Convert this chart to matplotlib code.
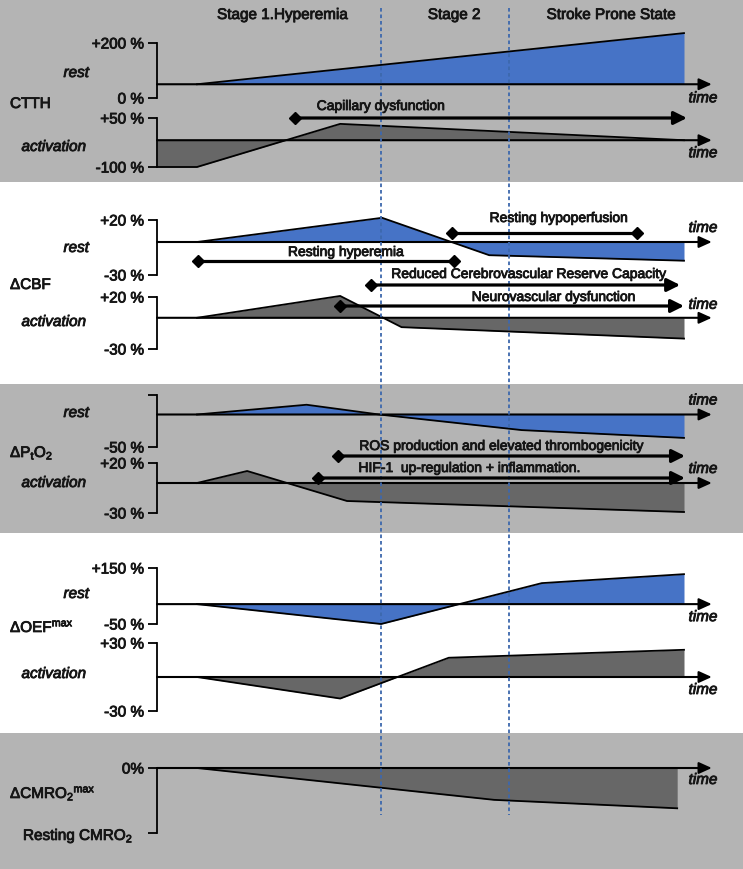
import matplotlib.pyplot as plt
import matplotlib.patheffects as pe

plt.rcParams['font.family'] = ['Liberation Sans', 'DejaVu Sans']
plt.rcParams['mathtext.fontset'] = 'custom'
plt.rcParams['mathtext.rm'] = 'Liberation Sans'
plt.rcParams['mathtext.it'] = 'Liberation Sans:italic'
plt.rcParams['mathtext.bf'] = 'Liberation Sans:bold'

# time in arbitrary units: 0 = onset, 10 = end of the schematic
stage_bounds = [3.78, 6.40]
stage_names = ['Stage 1.Hyperemia', 'Stage 2', 'Stroke Prone State']
t_axis = -0.82     # where the y brackets stand
t_arrow = 10.57    # tip of the time arrows

# CTTH
ctth_rest_t = [0, 10]
ctth_rest_v = [50, 236]
ctth_act_t = [t_axis, 0, 2.94, 10]
ctth_act_v = [-100, -100, 32, -18]
# delta CBF
cbf_rest_t = [0, 3.8, 6.0, 10]
cbf_rest_v = [0, 22, -12, -17]
cbf_act_t = [0, 2.94, 4.2, 10]
cbf_act_v = [0, 21, -9, -20]
# delta PtO2
pto2_rest_t = [0, 2.25, 3.74, 6.67, 10]
pto2_rest_v = [0, 15, 0, -24, -36]
pto2_act_t = [0, 1.03, 3.08, 10]
pto2_act_v = [0, 12, -18, -29]
# delta OEFmax
oef_rest_t = [0, 3.78, 7.08, 10]
oef_rest_v = [21, -50, 96, 128]
oef_act_t = [0, 2.94, 5.17, 10]
oef_act_v = [0, -19, 17, 24]
# delta CMRO2max
cmro2_t = [0, 6.1, 9.86]
cmro2_v = [0, -49, -62]

# annotations: text, start, end, end style
spans = [
    ('Capillary dysfunction', 2.01, 10.06, 'arrow'),
    ('Resting hypoperfusion', 5.24, 9.03, 'diamond'),
    ('Resting hyperemia', 0.02, 5.28, 'diamond'),
    ('Reduced Cerebrovascular Reserve Capacity', 3.57, 9.92, 'arrow'),
    ('Neurovascular dysfunction', 2.94, 10.0, 'arrow'),
    ('ROS production and elevated thrombogenicity', 2.9, 10.02, 'arrow'),
    ('HIF-1  up-regulation + inflammation.', 2.48, 10.02, 'arrow'),
]

BLUE = '#4673c6'
DARK = '#676767'
BAND = '#b4b4b4'
INK = '#151515'
thick = [pe.withStroke(linewidth=0.6, foreground=INK)]

W, H = 743, 869
fig = plt.figure(figsize=(W / 100, H / 100), dpi=100)
xlim = (-197 / 48.7, (W - 197) / 48.7)

# background bands
bg = fig.add_axes([0, 0, 1, 1])
bg.set_xlim(0, 1)
bg.set_ylim(H, 0)
bg.axis('off')
edges = [0, 182, 384, 533, 733, H]
for i in range(len(edges) - 1):
    bg.axhspan(edges[i], edges[i + 1], color=BAND if i % 2 == 0 else 'white', lw=0)
bg.set_zorder(-1)

panels = [
    dict(t=ctth_rest_t, v=ctth_rest_v, base=50, lim=(0, 200), lab=['0 %', '+200 %'], c=BLUE, rows=(43, 98), dy=-14),
    dict(t=ctth_act_t, v=ctth_act_v, base=-18, lim=(-100, 50), lab=['-100 %', '+50 %'], c=DARK, rows=(118, 167), dy=-13),
    dict(t=cbf_rest_t, v=cbf_rest_v, base=0, lim=(-30, 20), lab=['-30 %', '+20 %'], c=BLUE, rows=(220, 275), dy=14),
    dict(t=cbf_act_t, v=cbf_act_v, base=0, lim=(-30, 20), lab=['-30 %', '+20 %'], c=DARK, rows=(297, 349), dy=13),
    dict(t=pto2_rest_t, v=pto2_rest_v, base=0, lim=(-50, 30), lab=['-50 %', ''], c=BLUE, rows=(395, 447), dy=14),
    dict(t=pto2_act_t, v=pto2_act_v, base=0, lim=(-30, 20), lab=['-30 %', '+20 %'], c=DARK, rows=(463, 513), dy=14),
    dict(t=oef_rest_t, v=oef_rest_v, base=21, lim=(-50, 150), lab=['-50 %', '+150 %'], c=BLUE, rows=(568, 624), dy=-13),
    dict(t=oef_act_t, v=oef_act_v, base=0, lim=(-30, 30), lab=['-30 %', '+30 %'], c=DARK, rows=(643, 711), dy=-13),
    dict(t=cmro2_t, v=cmro2_v, base=0, lim=(-100, 0), lab=['', '0%'], c=DARK, rows=(768, 833), dy=-12),
]

for p in panels:
    top, bot = p['rows']
    ax = fig.add_axes([0, 1 - bot / H, 1, (bot - top) / H])
    ax.set_facecolor('none')
    ax.set_xlim(*xlim)
    ax.set_ylim(*p['lim'])
    ax.fill_between(p['t'], p['v'], p['base'], color=p['c'], lw=0, clip_on=False)
    ax.plot(p['t'], p['v'], color='black', lw=1.3, clip_on=False)
    ax.annotate('', xy=(t_arrow, p['base']), xytext=(t_axis, p['base']),
                arrowprops=dict(arrowstyle='-|>,head_length=0.55,head_width=0.25',
                                mutation_scale=14, lw=1.5, color='black',
                                shrinkA=0, shrinkB=0))
    ax.annotate('time', xy=(10.39, p['base']), xytext=(0, p['dy']),
                textcoords='offset pixels', ha='center', va='center', color=INK,
                style='italic', fontsize=11, annotation_clip=False, path_effects=thick)
    for s in ['top', 'right', 'bottom']:
        ax.spines[s].set_visible(False)
    ax.spines['left'].set_position(('data', t_axis))
    ax.spines['left'].set_bounds(*p['lim'])
    ax.spines['left'].set_linewidth(1.3)
    ax.set_xticks([])
    ax.set_yticks(p['lim'])
    ax.set_yticklabels(p['lab'])
    ax.tick_params(axis='y', direction='out', length=6.5, width=1.3, pad=3,
                   labelsize=11, labelcolor=INK)
    for lbl in ax.get_yticklabels():
        lbl.set_path_effects(thick)

# foreground: stage lines, headers, labels, annotations
fg = fig.add_axes([0, 0, 1, 1])
fg.set_xlim(*xlim)
fg.set_ylim(H, 0)
fg.axis('off')
fg.set_zorder(3)

fg.vlines(stage_bounds, 8, 815, colors='#3d68ad', lw=1.3, linestyles=(0, (2, 1.6)))
for name, tc in zip(stage_names, [1.75, 5.28, 8.5]):
    fg.text(tc, 15, name, ha='center', va='center', fontsize=11, color=INK, path_effects=thick)

lt = fg.get_yaxis_transform()
names = ['CTTH', 'ΔCBF', 'ΔP$_\\mathrm{t}$O$_2$', 'ΔOEF$^\\mathrm{max}$', 'ΔCMRO$_2$$^\\mathrm{max}$']
for name, yb in zip(names, [108, 289, 457, 632, 798]):
    fg.text(10 / W, yb, name, transform=lt, ha='left', va='baseline', fontsize=11,
            color=INK, path_effects=thick)
fg.text(133 / W, 836, 'Resting CMRO$_2$', transform=lt, ha='right', va='center',
        fontsize=11, color=INK, path_effects=thick)

for lab, yc, xr in [('rest', 73, 89), ('activation', 147, 86), ('rest', 248, 89), ('activation', 322, 86),
                    ('rest', 413, 89), ('activation', 483, 86), ('rest', 594, 89), ('activation', 674, 86)]:
    fg.text(xr / W, yc, lab, transform=lt, ha='right', va='center', style='italic',
            fontsize=11, color=INK, path_effects=thick)

span_y = [118, 233, 261, 285, 306, 456, 478]
text_y = [106, 218, 252, 274, 297, 446, 468]
text_t = [3.78, 7.43, 3.06, 6.82, 7.33, 6.26, 5.6]
for (lab, t0, t1, kind), y, ty, tt in zip(spans, span_y, text_y, text_t):
    if kind == 'arrow':
        fg.annotate('', xy=(t1, y), xytext=(t0, y),
                    arrowprops=dict(arrowstyle='-|>,head_length=0.6,head_width=0.3',
                                    mutation_scale=13, lw=2.3, color='black',
                                    shrinkA=0, shrinkB=0))
        fg.plot([t0], [y], marker='D', ms=6, color='black')
    else:
        fg.plot([t0, t1], [y, y], color='black', lw=2.3, marker='D', ms=6)
    fg.text(tt, ty, lab, ha='center', va='center', fontsize=10, color=INK, path_effects=thick)

fig.savefig('out.png', dpi=100)
